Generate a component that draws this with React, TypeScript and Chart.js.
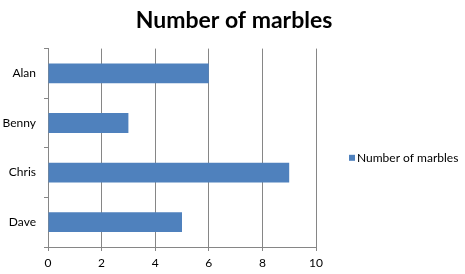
import React, { useEffect, useRef } from "react";
import { Chart, registerables } from "chart.js";

Chart.register(...registerables);

const categories = ["Alan", "Benny", "Chris", "Dave"];
const seriesName = "Number of marbles";
const values = [6, 3, 9, 5];
const xMin = 0;
const xMax = 10;
const xStep = 2;

const FONT = "Lato, 'Open Sans', sans-serif";

const sideLegend = {
  id: "sideLegend",
  afterDraw(chart: any) {
    const { ctx, chartArea } = chart;
    const ds = chart.data.datasets[0];
    const boxX = chart.width - 116;
    const cy = (chartArea.top + chartArea.bottom) / 2 + 10;
    ctx.save();
    ctx.fillStyle = ds.backgroundColor;
    ctx.fillRect(boxX, cy - 3, 6, 6);
    ctx.fillStyle = "#000";
    ctx.font = `12px ${FONT}`;
    ctx.textBaseline = "middle";
    ctx.textAlign = "left";
    ctx.fillText(ds.label, boxX + 8, cy);
    ctx.restore();
  },
};

export default function App() {
  const ref = useRef<HTMLCanvasElement | null>(null);
  useEffect(() => {
    document.body.style.margin = "0";
    const ctx = ref.current!.getContext("2d")!;
    const chart = new Chart(ctx, {
      type: "bar",
      data: {
        labels: categories,
        datasets: [
          {
            label: seriesName,
            data: values,
            backgroundColor: "#4F81BD",
            borderWidth: 0,
            barPercentage: 0.4,
            categoryPercentage: 1,
            xAxisID: "x",
            yAxisID: "y",
          },
        ],
      },
      plugins: [sideLegend],
      options: {
        indexAxis: "y",
        animation: false,
        responsive: false,
        maintainAspectRatio: false,
        layout: { padding: { left: 3, right: 0, top: 0, bottom: 0 } },
        plugins: {
          title: {
            display: true,
            text: seriesName,
            color: "#000",
            font: { family: FONT, size: 23, weight: "bold" },
            padding: { top: 7, bottom: 14 },
          },
          legend: { display: false },
          tooltip: { enabled: false },
        },
        scales: {
          x: {
            min: xMin,
            max: xMax,
            afterFit: (s: any) => {
              s.height = 27;
            },
            ticks: {
              stepSize: xStep,
              color: "#000",
              font: { family: FONT, size: 12 },
              padding: 5,
            },
            grid: {
              color: "#868686",
              lineWidth: 1,
              drawTicks: true,
              tickLength: 4,
            },
            border: { display: true, color: "#868686" },
          },
          y: {
            afterFit: (s: any) => {
              s.width = 45;
            },
            ticks: {
              color: "#000",
              font: { family: FONT, size: 12 },
              padding: 8,
            },
            grid: {
              offset: true,
              drawOnChartArea: false,
              drawTicks: true,
              tickLength: 4,
              color: "#868686",
            },
            border: { display: true, color: "#868686" },
          },
          legendSpace: {
            type: "category",
            position: "right",
            labels: categories,
            afterFit: (s: any) => {
              s.width = 149;
            },
            ticks: { display: false },
            grid: { display: false },
            border: { display: false },
          },
        },
      },
    });
    return () => chart.destroy();
  }, []);
  return (
    <div style={{ width: 465, height: 274 }}>
      <canvas ref={ref} width={465} height={274} style={{ display: "block" }} />
    </div>
  );
}
